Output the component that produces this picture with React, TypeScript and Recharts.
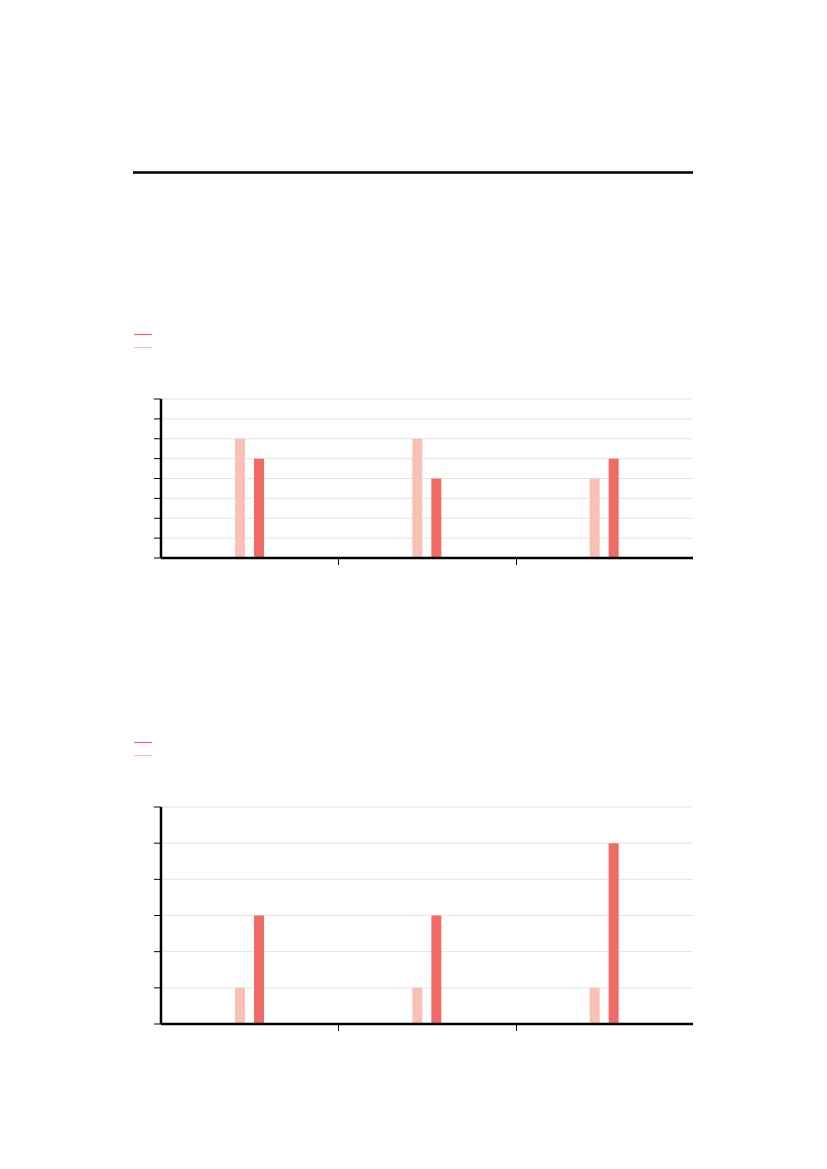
import React from 'react';
import { BarChart, Bar, XAxis, YAxis, CartesianGrid } from 'recharts';

const categories = ['g1', 'g2', 'g3'];

const topLight = [6, 6, 4];
const topDark = [5, 4, 5];
const topTicks = [0, 1, 2, 3, 4, 5, 6, 7, 8];

const bottomLight = [1, 1, 1];
const bottomDark = [3, 3, 5];
const bottomTicks = [0, 1, 2, 3, 4, 5, 6];

const DARK = '#f26a66';
const LIGHT = '#f9c0b5';
const GRID = '#e4e4e4';

const buildRows = (light: number[], dark: number[]) =>
  categories.map((name, i) => ({ name, light: light[i], dark: dark[i] }));

// ticks sit on the borders between categories, not on their centres
const BoundaryTick = (props: any) => {
  const { x, y, payload, index, visibleTicksCount } = props;
  if (index >= visibleTicksCount - 1) return null;
  const half = payload?.offset ?? 0;
  const bx = Math.round(x + half) + 0.5;
  return <line x1={bx} x2={bx} y1={y} y2={y + 7} stroke="#000" strokeWidth={1} />;
};

// no labels on the value axis, only the little tick marks
const NoLabel = () => <g />;

type PanelProps = {
  top: number;
  height: number;
  marginTop: number;
  marginBottom: number;
  light: number[];
  dark: number[];
  ticks: number[];
};

const Panel: React.FC<PanelProps> = ({ top, height, marginTop, marginBottom, light, dark, ticks }) => (
  <div style={{ position: 'absolute', left: 120, top }}>
    <BarChart
      width={573}
      height={height}
      data={buildRows(light, dark)}
      margin={{ top: marginTop, right: 0, bottom: marginBottom, left: 31 }}
      barSize={10}
      barGap={9}
    >
      <CartesianGrid vertical={false} stroke={GRID} strokeWidth={1} />
      <XAxis
        dataKey="name"
        height={10}
        tickSize={0}
        tickMargin={0}
        tickLine={false}
        axisLine={{ stroke: '#000', strokeWidth: 2.5 }}
        tick={<BoundaryTick />}
        interval={0}
      />
      <YAxis
        width={10}
        domain={[ticks[0], ticks[ticks.length - 1]]}
        ticks={ticks}
        interval={0}
        tick={<NoLabel />}
        tickSize={7}
        tickLine={{ stroke: '#000', strokeWidth: 1 }}
        axisLine={{ stroke: '#000', strokeWidth: 2.5 }}
      />
      <Bar dataKey="light" fill={LIGHT} isAnimationActive={false} />
      <Bar dataKey="dark" fill={DARK} isAnimationActive={false} />
    </BarChart>
  </div>
);

const LegendMarks: React.FC = () => (
  <svg style={{ position: 'absolute', left: 14, top: 0 }} width={24} height={20}>
    <line x1={0} x2={18} y1={1.5} y2={1.5} stroke={DARK} strokeWidth={1.2} />
    <line x1={0} x2={18} y1={14.5} y2={14.5} stroke={LIGHT} strokeWidth={1.2} />
  </svg>
);

export default function App() {
  return (
    <div style={{ position: 'absolute', left: 0, top: 0, width: 827, height: 1169, background: '#fff' }}>
      <svg style={{ position: 'absolute', left: 0, top: 0 }} width={827} height={200}>
        <line x1={133} x2={693} y1={172.5} y2={172.5} stroke="#000" strokeWidth={2.5} />
      </svg>
      <div style={{ position: 'absolute', left: 120, top: 333 }}>
        <LegendMarks />
      </div>
      <Panel top={380} height={200} marginTop={19} marginBottom={12} light={topLight} dark={topDark} ticks={topTicks} />
      <div style={{ position: 'absolute', left: 120, top: 741 }}>
        <LegendMarks />
      </div>
      <Panel top={790} height={260} marginTop={17} marginBottom={16} light={bottomLight} dark={bottomDark} ticks={bottomTicks} />
    </div>
  );
}
